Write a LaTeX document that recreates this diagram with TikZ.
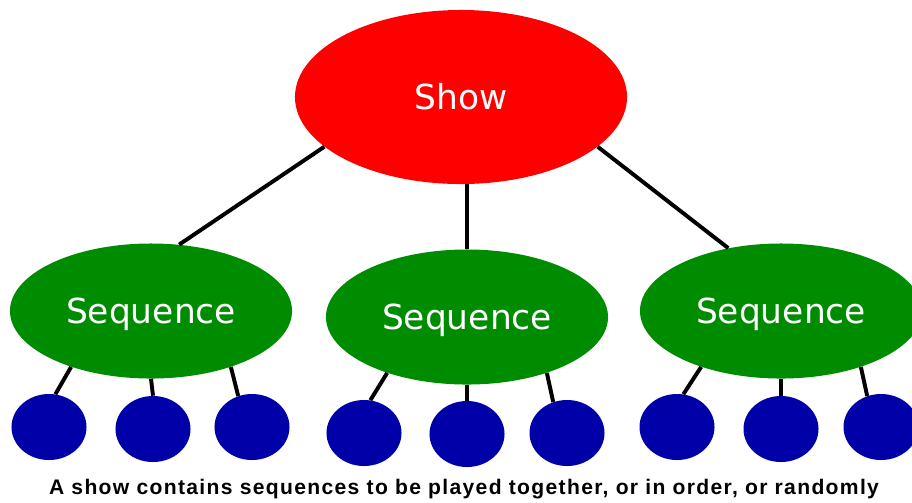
\documentclass[tikz,border=0pt]{standalone}
\usepackage{fontspec}
\setmainfont{DejaVu Sans}
\newfontfamily\captionfont[LetterSpace=6.3]{Liberation Sans}
\usetikzlibrary{shapes.geometric}
\definecolor{showred}{RGB}{255,0,0}
\definecolor{seqgreen}{RGB}{0,140,0}
\definecolor{itemblue}{RGB}{0,0,168}

\begin{document}
\begin{tikzpicture}[
    x=0.025cm, y=-0.025cm,
    show/.style={ellipse, fill=showred, text=white, inner sep=0pt, minimum width=8.3cm, minimum height=4.35cm, font=\fontsize{24.5}{28}\selectfont},
    seq/.style={ellipse, fill=seqgreen, text=white, inner sep=0pt, text depth=0pt, minimum width=7.05cm, minimum height=3.375cm, font=\fontsize{24.5}{28}\selectfont},
    item/.style={ellipse, fill=itemblue, inner sep=0pt, minimum width=1.875cm, minimum height=1.65cm},
    link/.style={line width=2.8pt, black}
]
\useasboundingbox (0,0) rectangle (912,502);
\clip (0,0) rectangle (912,502);

% Top node
\node[show] (show) at (461,97) {Show};

% Sequences
\node[seq] (seqA) at (151,311) {Sequence};
\node[seq] (seqB) at (467,317) {Sequence};
\node[seq] (seqC) at (781,311) {Sequence};

% Items
\node[item] (a1) at (49,427) {};
\node[item] (a2) at (153,429) {};
\node[item] (a3) at (252,427) {};
\node[item] (b1) at (364,433) {};
\node[item] (b2) at (467,434) {};
\node[item] (b3) at (567,433) {};
\node[item] (c1) at (677,427) {};
\node[item] (c2) at (781,429) {};
\node[item] (c3) at (881,427) {};

% Links
\draw[link] (show.200) -- (seqA.67);
\draw[link] (seqB.north |- show.south) -- (seqB.north);
\draw[link] (show.340) -- (seqC.130);

\draw[link] (seqA.215) -- (a1.79);
\draw[link] (seqA.270) -- (a2.90);
\draw[link] (seqA.325) -- (a3.114);

\draw[link] (seqB.215) -- (b1.79);
\draw[link] (seqB.270) -- (b2.90);
\draw[link] (seqB.325) -- (b3.114);

\draw[link] (seqC.215) -- (c1.79);
\draw[link] (seqC.270) -- (c2.90);
\draw[link] (seqC.325) -- (c3.114);

% Caption
\node[font=\captionfont\bfseries\fontsize{15}{17}\selectfont] (caption) at (464,489) {A show contains sequences to be played together, or in order, or randomly};

\end{tikzpicture}
\end{document}
